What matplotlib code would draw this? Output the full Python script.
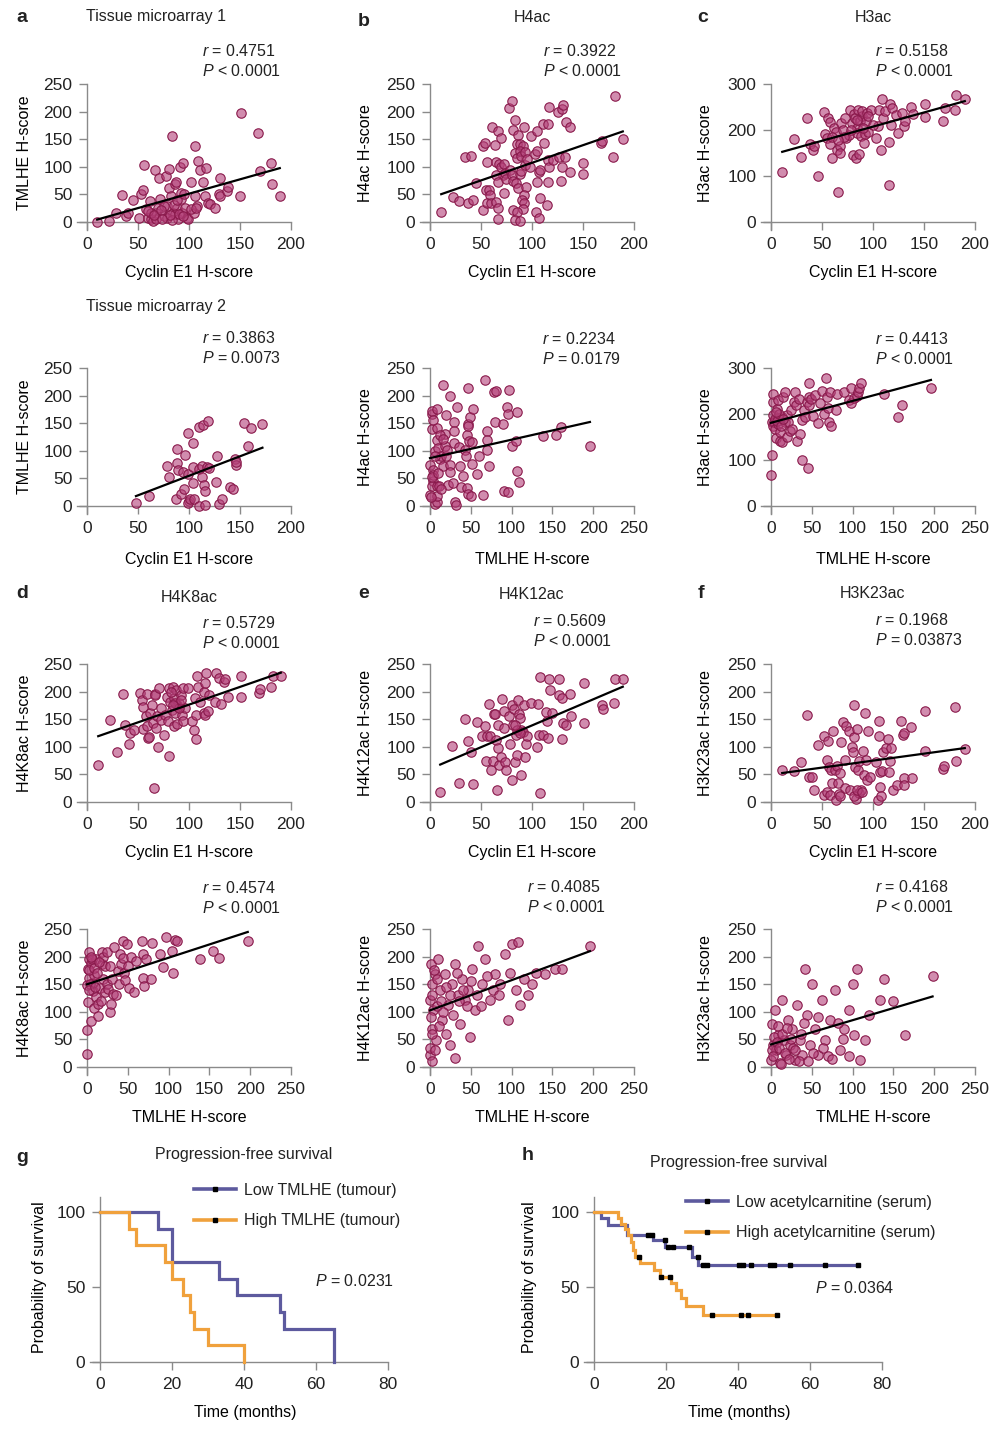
import numpy as np
import matplotlib
matplotlib.use('Agg')
import matplotlib.pyplot as plt
from matplotlib.lines import Line2D

plt.rcParams['font.family'] = ['Liberation Sans', 'DejaVu Sans']
plt.rcParams['mathtext.fontset'] = 'custom'
plt.rcParams['mathtext.it'] = 'Liberation Sans:italic'
plt.rcParams['mathtext.rm'] = 'Liberation Sans'
plt.rcParams['text.color'] = '#222222'

# ---- scatter data (x, y) ----
# tissue microarray 1 / 2, cyclin E1 vs TMLHE
a1 = [(10,0),(22,2),(28,16),(34,49),(38,11),(40,17),(45,39),(51,8),(53,51),(55,58),(56,103),(58,24),(60,8),(62,38),(63,5),(65,2),(67,94),(68,17),(70,26),(71,80),(72,41),(75,11),(77,83),(78,29),(80,62),(80,96),(82,47),(83,155),(84,17),(86,68),(86,14),(87,72),(88,26),(89,5),(91,99),(92,53),(93,17),(94,107),(96,26),(98,8),(99,5),(102,72),(105,17),(106,47),(106,138),(108,29),(109,110),(111,95),(114,72),(116,47),(117,98),(119,35),(121,32),(125,26),(129,50),(130,80),(130,47),(137,56),(138,63),(150,47),(151,198),(168,161),(170,92),(180,107),(181,68),(189,47),(78,8),(83,4),(92,41),(75,29),(68,6),(63,17),(102,24),(107,26),(60,20),(66,12),(73,22),(81,13),(85,30),(90,15),(94,10),(88,40),(74,5),(95,50)]
a2 = [(48,5),(61,19),(78,72),(80,53),(87,12),(88,77),(88,104),(89,65),(92,22),(94,61),(95,30),(96,93),(99,133),(99,58),(100,9),(99,5),(101,13),(104,71),(104,41),(104,115),(105,12),(110,0),(110,144),(110,67),(113,52),(113,72),(114,147),(115,38),(116,27),(116,2),(118,70),(119,154),(120,69),(126,44),(127,91),(129,3),(132,13),(140,35),(143,30),(145,86),(146,74),(146,79),(154,150),(158,108),(161,141),(172,149)]
# H4ac
b1 = [(11,19),(23,46),(28,38),(34,117),(40,120),(37,34),(42,39),(45,71),(52,21),(52,138),(54,143),(56,108),(61,172),(64,139),(67,164),(70,152),(65,108),(68,105),(70,99),(72,85),(73,105),(65,85),(67,73),(55,58),(58,58),(59,49),(56,34),(60,34),(65,37),(67,26),(67,5),(73,52),(74,88),(75,78),(77,207),(80,219),(81,166),(83,184),(85,141),(86,158),(88,141),(91,138),(92,173),(83,125),(85,116),(88,129),(89,119),(93,127),(78,94),(80,85),(81,74),(84,70),(86,61),(88,87),(89,93),(93,103),(95,114),(94,63),(92,49),(90,40),(92,34),(91,23),(81,22),(85,19),(83,4),(88,1),(98,100),(99,156),(103,123),(105,129),(105,164),(107,90),(105,73),(108,94),(108,43),(104,18),(107,7),(111,177),(112,144),(116,177),(117,209),(116,113),(117,99),(116,72),(115,31),(121,113),(125,200),(129,205),(130,212),(126,117),(132,117),(129,99),(128,74),(133,181),(137,172),(137,90),(150,106),(150,87),(168,143),(169,147),(179,117),(181,229),(189,150)]
b2 = [(0,20),(0,74),(2,167),(2,140),(2,173),(4,155),(4,46),(3,37),(4,66),(6,100),(6,4),(8,7),(8,141),(9,175),(9,119),(9,19),(8,37),(10,105),(11,37),(12,85),(14,91),(16,220),(16,73),(18,131),(18,108),(20,165),(20,90),(21,102),(22,38),(24,74),(24,199),(25,61),(28,42),(29,153),(29,135),(30,114),(31,7),(32,2),(33,179),(36,107),(37,73),(38,34),(40,54),(43,102),(44,90),(45,32),(45,129),(46,214),(46,149),(46,145),(47,22),(48,117),(49,161),(50,18),(52,76),(53,175),(52,116),(57,58),(60,91),(65,20),(67,229),(70,135),(70,102),(70,119),(72,73),(79,206),(81,208),(80,152),(90,149),(91,28),(94,179),(95,167),(97,211),(96,25),(101,108),(106,117),(107,170),(107,64),(109,43),(138,127),(155,129),(161,143),(196,108),(1,16),(4,56),(2,52),(12,128),(16,122),(6,90),(10,60),(14,30)]
# H3ac
c1 = [(11,108),(23,181),(29,141),(35,227),(38,169),(41,157),(42,166),(46,99),(52,240),(53,191),(55,182),(56,227),(58,169),(58,218),(60,139),(62,204),(64,195),(65,157),(66,66),(68,166),(68,150),(69,215),(71,200),(73,226),(74,182),(76,190),(77,244),(79,215),(80,146),(81,235),(82,226),(83,140),(84,204),(84,193),(85,243),(86,147),(87,219),(88,186),(89,230),(89,242),(91,171),(92,191),(93,220),(94,237),(95,195),(98,244),(103,182),(105,208),(106,244),(108,157),(109,267),(110,227),(112,242),(116,175),(116,81),(117,256),(118,211),(119,248),(123,233),(125,193),(128,237),(130,208),(131,219),(137,249),(139,235),(151,228),(151,256),(169,219),(171,248),(180,244),(181,277),(190,267),(78,200),(84,222),(90,205),(72,185),(95,230),(100,210),(60,185),(66,178)]
c2 = [(0,68),(1,110),(1,182),(2,227),(3,244),(2,197),(3,175),(4,182),(5,168),(6,148),(7,211),(8,230),(9,179),(9,191),(11,142),(11,161),(13,140),(13,193),(15,237),(17,182),(17,248),(19,197),(19,150),(21,182),(23,162),(24,208),(26,168),(28,226),(29,248),(31,219),(32,142),(34,233),(38,100),(35,157),(38,186),(41,208),(42,193),(44,226),(45,82),(46,237),(46,267),(47,219),(49,233),(52,195),(54,242),(58,180),(60,224),(62,249),(65,199),(67,278),(69,237),(70,213),(71,182),(73,175),(72,248),(80,209),(81,244),(90,248),(95,231),(98,224),(98,256),(102,235),(106,239),(107,248),(108,256),(110,268),(138,244),(156,193),(161,219),(196,257),(5,190),(7,185),(10,200),(12,175),(6,205),(15,190)]
# H4K8ac
d1 = [(11,67),(23,149),(29,90),(35,196),(37,139),(41,105),(42,125),(46,131),(52,197),(54,185),(55,133),(55,173),(58,155),(59,196),(59,137),(60,116),(61,117),(62,161),(64,176),(65,143),(66,25),(67,196),(67,193),(68,134),(69,155),(70,100),(71,206),(73,171),(73,149),(75,122),(76,158),(78,191),(79,146),(80,206),(80,84),(81,182),(83,167),(84,209),(85,188),(85,137),(86,161),(87,202),(88,176),(88,141),(89,173),(90,179),(92,194),(93,158),(94,206),(94,146),(96,170),(99,206),(103,147),(105,131),(106,188),(107,158),(107,114),(108,229),(109,208),(111,182),(115,161),(115,200),(116,158),(116,215),(117,234),(119,164),(120,194),(125,182),(126,234),(129,225),(131,177),(134,218),(135,222),(138,191),(151,229),(151,191),(169,197),(170,205),(180,209),(182,228),(190,229),(86,180),(90,170),(84,175),(92,185),(82,200)]
d2 = [(0,24),(0,67),(1,117),(0,148),(1,177),(2,196),(3,209),(3,162),(5,189),(7,138),(5,84),(7,153),(9,166),(9,106),(11,126),(14,115),(14,93),(11,196),(16,144),(17,120),(18,186),(18,209),(20,199),(20,159),(22,135),(22,183),(24,208),(25,150),(26,141),(28,183),(28,100),(30,114),(31,159),(32,132),(33,217),(36,130),(38,174),(39,150),(40,205),(42,186),(44,229),(44,197),(45,171),(46,158),(49,223),(50,183),(51,144),(54,200),(57,135),(60,192),(67,229),(69,205),(69,162),(70,147),(72,196),(79,159),(80,225),(90,205),(93,182),(97,235),(104,211),(106,171),(108,230),(110,229),(138,196),(155,211),(162,197),(197,229),(2,175),(4,150),(6,195),(8,180),(12,170),(3,140),(10,145),(15,190),(5,200)]
# H4K12ac
e1 = [(10,18),(22,102),(28,34),(34,151),(37,110),(40,91),(42,32),(46,145),(51,120),(54,138),(55,74),(56,119),(58,177),(59,119),(60,58),(62,74),(63,159),(64,160),(65,113),(66,22),(67,97),(67,140),(68,67),(70,82),(71,186),(73,134),(73,164),(74,73),(75,58),(77,155),(78,105),(80,40),(80,176),(81,140),(82,168),(83,72),(84,122),(85,85),(86,185),(87,159),(88,152),(89,49),(89,131),(91,126),(92,176),(93,82),(94,105),(95,119),(99,179),(105,100),(106,177),(107,122),(108,16),(108,226),(111,121),(114,163),(115,146),(116,116),(117,222),(118,203),(120,161),(126,223),(126,194),(129,188),(129,114),(130,143),(133,140),(137,196),(138,155),(151,215),(151,143),(169,176),(170,169),(180,180),(181,223),(189,223),(85,130),(88,125),(83,140)]
e2 = [(0,22),(2,68),(0,122),(2,150),(1,186),(6,168),(4,104),(7,49),(12,140),(10,195),(15,86),(18,168),(22,113),(25,40),(27,150),(31,16),(31,186),(34,131),(37,77),(39,159),(43,122),(47,140),(49,55),(51,177),(55,104),(59,219),(64,150),(67,195),(74,122),(80,168),(86,150),(92,204),(96,86),(100,222),(105,140),(108,226),(110,113),(120,131),(141,168),(153,177),(162,177),(196,219),(1,90),(3,130),(5,175),(8,110),(3,60),(9,160),(13,120),(16,100),(20,145),(24,130),(28,95),(33,170),(36,120),(41,140),(45,110),(50,155),(58,130),(62,110),(70,165),(77,140),(84,130),(98,170),(115,160),(125,150),(130,170),(0,35),(2,10),(6,30),(11,75),(19,60)]
# H3K23ac
f1 = [(11,58),(23,56),(29,72),(35,158),(37,46),(40,46),(42,22),(46,104),(52,120),(52,13),(55,19),(56,110),(55,76),(57,64),(58,13),(59,58),(60,34),(61,129),(63,58),(64,4),(65,65),(66,34),(67,14),(68,52),(69,108),(71,145),(73,25),(73,76),(74,137),(76,129),(77,22),(79,100),(80,91),(81,117),(81,175),(82,64),(83,5),(84,133),(85,58),(86,74),(86,16),(88,22),(90,93),(91,49),(92,161),(93,76),(94,40),(95,129),(97,46),(103,73),(105,4),(106,146),(106,119),(107,55),(107,28),(108,10),(109,56),(110,91),(113,97),(115,114),(116,55),(117,74),(118,97),(120,22),(124,31),(127,147),(129,122),(130,125),(130,44),(130,31),(137,135),(138,44),(151,165),(151,93),(169,60),(170,65),(180,173),(181,74),(190,96),(68,10),(81,10),(84,22),(89,19)]
f2 = [(0,13),(2,40),(1,77),(5,104),(6,31),(9,58),(11,7),(13,122),(16,49),(18,22),(21,86),(23,40),(26,68),(29,13),(32,113),(35,49),(38,22),(42,177),(44,95),(48,40),(50,150),(54,68),(57,22),(62,122),(66,49),(72,86),(78,140),(84,31),(90,68),(96,104),(102,58),(105,177),(109,13),(115,49),(133,122),(139,159),(164,58),(198,164),(1,30),(3,20),(4,55),(7,45),(8,75),(10,35),(12,5),(14,60),(17,25),(19,70),(22,15),(24,50),(27,35),(30,30),(34,10),(37,60),(40,80),(45,10),(52,25),(58,90),(64,35),(70,20),(75,15),(82,80),(88,50),(95,20),(100,150),(120,95),(150,120)]

r_vals = ['0.4751', '0.3922', '0.5158', '0.3863', '0.2234', '0.4413',
          '0.5729', '0.5609', '0.1968', '0.4574', '0.4085', '0.4168']
p_vals = ['< 0.0001', '< 0.0001', '< 0.0001', '= 0.0073', '= 0.0179', '< 0.0001',
          '< 0.0001', '< 0.0001', '= 0.03873', '< 0.0001', '< 0.0001', '< 0.0001']
ylabels = ['TMLHE H-score', 'H4ac H-score', 'H3ac H-score',
           'TMLHE H-score', 'H4ac H-score', 'H3ac H-score',
           'H4K8ac H-score', 'H4K12ac H-score', 'H3K23ac H-score',
           'H4K8ac H-score', 'H4K12ac H-score', 'H3K23ac H-score']
xlabels = ['Cyclin E1 H-score'] * 3 + ['Cyclin E1 H-score', 'TMLHE H-score', 'TMLHE H-score'] + \
          ['Cyclin E1 H-score'] * 3 + ['TMLHE H-score'] * 3
xmaxes = [200, 200, 200, 200, 250, 250, 200, 200, 200, 250, 250, 250]
ymaxes = [250, 250, 300, 250, 250, 300, 250, 250, 250, 250, 250, 250]
panel_data = [a1, b1, c1, a2, b2, c2, d1, e1, f1, d2, e2, f2]

# ---- survival data ----
g_low_t = [16, 20, 33, 38, 50, 51, 65]
g_low_s = [88.9, 66.7, 55.6, 44.4, 33.3, 22.2, 0]
g_high_t = [8, 10, 18, 20, 23, 25, 26, 30, 40]
g_high_s = [88.9, 77.8, 66.7, 55.6, 44.4, 33.3, 22.2, 11.1, 0]

h_low_t = [2, 4, 9.3, 16.4, 19.8, 27.3, 29]
h_low_s = [96.3, 91.6, 84.6, 81.3, 76.8, 70.2, 64.7]
h_low_end = 73.4
h_low_cens = [15.1, 16.0, 19.6, 20.5, 21.9, 26.3, 28.8, 30.4, 31.4, 40.4, 41.3, 43.5, 48.9, 49.9, 54.5, 64.2, 73.4]
h_high_t = [6.7, 7.6, 8.5, 9.4, 10.2, 10.9, 11.3, 12.9, 16.8, 18.2, 21.5, 22.9, 24.3, 25.6, 30.2]
h_high_s = [96.3, 92.3, 89.0, 84.6, 80.2, 74.6, 69.8, 65.8, 61.4, 57.0, 52.6, 48.1, 42.6, 37.1, 31.6]
h_high_end = 50.9
h_high_cens = [12.4, 18.5, 21.0, 32.7, 40.9, 42.7, 50.9]

W, H = 1003, 1431
fig = plt.figure(figsize=(W / 100, H / 100), dpi=100)

def fx(px):
    return px / W

def fy(py):
    return 1 - py / H

AX = '#8a8a8a'
DOT_FACE = (0.70, 0.25, 0.47, 0.6)
DOT_EDGE = '#8a1a4c'
FS = 11.5

def place(ax, ox, oy, xmax, ymax, wpx, hpx, lpad=12, bpad=10, rpad=6, tpad=8):
    sx = wpx / xmax
    sy = hpx / ymax
    left, right = ox - lpad, ox + wpx + rpad
    top, bottom = oy - hpx - tpad, oy + bpad
    ax.set_position([fx(left), fy(bottom), (right - left) / W, (bottom - top) / H])
    ax.set_xlim(-lpad / sx, xmax + rpad / sx)
    ax.set_ylim(-bpad / sy, ymax + tpad / sy)
    return left, right, top, bottom

def style(ax, xb, yb):
    for s in ['top', 'right']:
        ax.spines[s].set_visible(False)
    ax.spines['left'].set_position(('data', 0))
    ax.spines['bottom'].set_position(('data', 0))
    ax.spines['bottom'].set_bounds(*xb)
    ax.spines['left'].set_bounds(*yb)
    for s in ['left', 'bottom']:
        ax.spines[s].set_color(AX)
        ax.spines[s].set_linewidth(1.0)
    ax.tick_params(direction='out', length=6, width=1.0, color=AX, labelsize=12.5,
                   labelcolor='#222222', pad=4.5)

col_x = [87, 430, 771]
row_y = [222, 506, 802, 1067]
ylab_x = [24, 366, 706]
xlab_c = [189, 532, 873]
xlab_y = [273, 559, 852, 1118]
stat_pos = [(202, 51), (543, 51), (875, 51),
            (202, 338), (542, 339), (875, 339),
            (202, 623), (533, 621), (875, 620),
            (202, 888), (527, 887), (875, 887)]

for i, pts in enumerate(panel_data):
    r, c = divmod(i, 3)
    xmax, ymax = xmaxes[i], ymaxes[i]
    ax = fig.add_axes([0, 0, 1, 1])
    left, right, top, bottom = place(ax, col_x[c], row_y[r], xmax, ymax, 204, 138)
    style(ax, (-10 * xmax / 204, xmax), (-8 * ymax / 138, ymax))
    xy = np.array(pts, dtype=float)
    x, y = xy[:, 0], xy[:, 1]
    ax.scatter(x, y, s=46, facecolor=DOT_FACE, edgecolor=DOT_EDGE, linewidth=0.8,
               clip_on=False, zorder=3)
    k, b = np.polyfit(x, y, 1)
    xs = np.array([x.min(), x.max()])
    ax.plot(xs, k * xs + b, color='black', lw=1.6, zorder=4)
    ax.set_xticks(np.arange(0, xmax + 1, 50))
    ax.set_yticks(np.arange(0, ymax + 1, 100 if ymax == 300 else 50))
    ax.set_xlabel(xlabels[i], fontsize=FS)
    ax.xaxis.label.set_va('center')
    ax.xaxis.set_label_coords((xlab_c[c] - left) / (right - left), (bottom - xlab_y[r]) / (bottom - top))
    ax.set_ylabel(ylabels[i], fontsize=FS)
    ax.yaxis.label.set_va('center')
    ax.yaxis.set_label_coords((ylab_x[c] - left) / (right - left), (bottom - (row_y[r] - 69)) / (bottom - top))
    sxp, syp = stat_pos[i]
    fig.text(fx(sxp), fy(syp), r'$r$ = ' + r_vals[i], fontsize=FS, va='center', ha='left')
    fig.text(fx(sxp), fy(syp + 20), r'$P$ ' + p_vals[i], fontsize=FS, va='center', ha='left')

titles = [('Tissue microarray 1', 156, 17), ('H4ac', 532, 17), ('H3ac', 873, 17),
          ('Tissue microarray 2', 156, 307), ('H4K8ac', 189, 597), ('H4K12ac', 532, 595),
          ('H3K23ac', 873, 593)]
for t, px, py in titles:
    fig.text(fx(px), fy(py), t, fontsize=FS, ha='center', va='center')

letters = [('a', 22, 17), ('b', 364, 22), ('c', 703, 17), ('d', 22, 593), ('e', 364, 593),
           ('f', 701, 593), ('g', 22, 1157), ('h', 528, 1155)]
for t, px, py in letters:
    fig.text(fx(px), fy(py), t, fontsize=14, fontweight='bold', ha='center', va='center')

# ---- survival panels ----
LOW = '#5d5a9e'
HIGH = '#f0a13c'

def km_axes(ox, oy):
    ax = fig.add_axes([0, 0, 1, 1])
    left, right, top, bottom = place(ax, ox, oy, 80, 100, 288, 150, lpad=12, bpad=10, rpad=6, tpad=18)
    style(ax, (-10 / 3.6, 80), (0, 110))
    ax.set_xticks([0, 20, 40, 60, 80])
    ax.set_yticks([0, 50, 100])
    return ax, left, right, top, bottom

def km_line(ax, t, s, color, end=None):
    tt = [0] + list(t)
    ss = [100] + list(s)
    if end is not None:
        tt.append(end)
        ss.append(ss[-1])
    ax.step(tt, ss, where='post', color=color, lw=2.3, solid_joinstyle='miter', zorder=3)
    return np.array(tt), np.array(ss)

def censors(ax, tt, ss, cens):
    idx = np.searchsorted(tt, cens, side='right') - 1
    ax.plot(cens, ss[idx], 's', color='black', ms=2.8, zorder=4, clip_on=False)

def km_legend(ax, labels, x0, y0):
    handles = [Line2D([], [], color=LOW, lw=2.6, marker='s', ms=3, mfc='black', mec='black'),
               Line2D([], [], color=HIGH, lw=2.6, marker='s', ms=3, mfc='black', mec='black')]
    ax.legend(handles, labels, loc='upper left', bbox_to_anchor=(fx(x0), fy(y0)),
              bbox_transform=fig.transFigure, frameon=False, fontsize=FS, handlelength=2.6,
              handletextpad=0.5, labelspacing=0.95, borderpad=0, borderaxespad=0, numpoints=1)

ax, l, rr, tp, bt = km_axes(100, 1362)
km_line(ax, g_low_t, g_low_s, LOW)
km_line(ax, g_high_t, g_high_s, HIGH)
km_legend(ax, ['Low TMLHE (tumour)', 'High TMLHE (tumour)'], 194, 1183)
fig.text(fx(315), fy(1281), r'$P$ = 0.0231', fontsize=FS, va='center')
ax.set_xlabel('Time (months)', fontsize=FS)
ax.xaxis.label.set_va('center')
ax.xaxis.set_label_coords((245 - l) / (rr - l), (bt - 1413) / (bt - tp))
ax.set_ylabel('Probability of survival', fontsize=FS)
ax.yaxis.label.set_va('center')
ax.yaxis.set_label_coords((40 - l) / (rr - l), (bt - 1277) / (bt - tp))
fig.text(fx(244), fy(1155), 'Progression-free survival', fontsize=FS, ha='center', va='center')

ax, l, rr, tp, bt = km_axes(594, 1362)
tt, ss = km_line(ax, h_low_t, h_low_s, LOW, h_low_end)
censors(ax, tt, ss, h_low_cens)
tt, ss = km_line(ax, h_high_t, h_high_s, HIGH, h_high_end)
censors(ax, tt, ss, h_high_cens)
km_legend(ax, ['Low acetylcarnitine (serum)', 'High acetylcarnitine (serum)'], 686, 1195)
fig.text(fx(815), fy(1288), r'$P$ = 0.0364', fontsize=FS, va='center')
ax.set_xlabel('Time (months)', fontsize=FS)
ax.xaxis.label.set_va('center')
ax.xaxis.set_label_coords((739 - l) / (rr - l), (bt - 1413) / (bt - tp))
ax.set_ylabel('Probability of survival', fontsize=FS)
ax.yaxis.label.set_va('center')
ax.yaxis.set_label_coords((530 - l) / (rr - l), (bt - 1277) / (bt - tp))
fig.text(fx(739), fy(1163), 'Progression-free survival', fontsize=FS, ha='center', va='center')

fig.savefig('out.png', dpi=100)
